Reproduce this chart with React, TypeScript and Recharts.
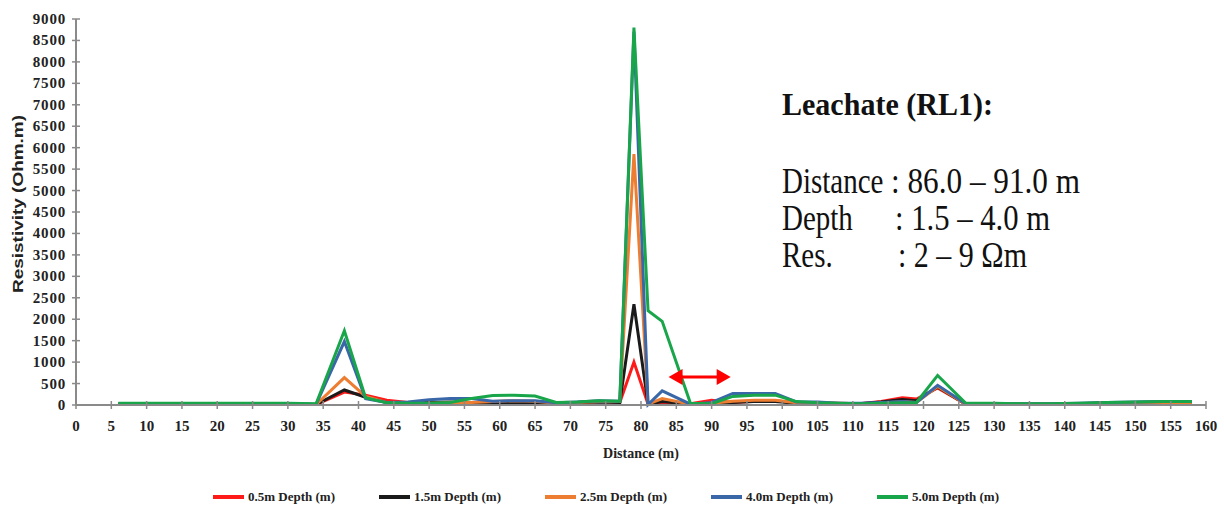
import {
  LineChart,
  Line,
  XAxis,
  YAxis,
  Legend,
  ReferenceLine,
} from 'recharts'

// distance along the profile (m)
const distances = [6, 10, 14, 18, 22, 26, 30, 34, 38, 41, 44, 47, 50, 53, 56, 59, 62, 65, 68, 71, 74, 77, 79, 81, 83, 87, 90, 93, 96, 99, 102, 105, 108, 111, 114, 117, 119, 122, 126, 130, 134, 138, 142, 146, 150, 154, 158]

// resistivity (Ohm.m) per depth
const depth05 = [20, 20, 20, 20, 20, 20, 20, 10, 300, 230, 110, 60, 50, 40, 50, 40, 40, 40, 40, 60, 80, 60, 1000, 20, 30, 30, 110, 60, 90, 100, 50, 50, 40, 30, 80, 170, 140, 400, 20, 20, 20, 20, 30, 40, 50, 60, 60]
const depth15 = [20, 20, 20, 20, 20, 20, 20, 10, 350, 180, 60, 50, 60, 70, 60, 50, 60, 50, 40, 50, 70, 60, 2350, 20, 80, 20, 30, 60, 80, 80, 40, 40, 30, 30, 70, 130, 100, 420, 20, 20, 20, 20, 30, 50, 60, 70, 70]
const depth25 = [20, 20, 20, 20, 20, 20, 20, 10, 640, 200, 60, 40, 40, 50, 60, 80, 100, 90, 40, 60, 80, 80, 5850, 20, 150, 20, 40, 90, 110, 110, 50, 40, 30, 30, 40, 80, 60, 430, 20, 20, 20, 20, 30, 40, 50, 60, 60]
const depth40 = [30, 30, 30, 30, 30, 30, 30, 20, 1480, 150, 60, 70, 120, 150, 150, 90, 100, 100, 50, 70, 100, 90, 8700, 10, 330, 20, 60, 270, 270, 270, 70, 70, 40, 40, 60, 80, 60, 460, 30, 30, 30, 30, 40, 60, 70, 80, 80]
const depth50 = [40, 40, 40, 40, 40, 40, 40, 30, 1730, 170, 50, 40, 40, 60, 150, 220, 230, 210, 60, 70, 100, 90, 8800, 2200, 1950, 40, 30, 200, 230, 230, 80, 50, 40, 30, 40, 50, 60, 690, 40, 40, 30, 30, 40, 60, 70, 80, 80]

const xTicks = [0, 5, 10, 15, 20, 25, 30, 35, 40, 45, 50, 55, 60, 65, 70, 75, 80, 85, 90, 95, 100, 105, 110, 115, 120, 125, 130, 135, 140, 145, 150, 155, 160]
const yTicks = [0, 500, 1000, 1500, 2000, 2500, 3000, 3500, 4000, 4500, 5000, 5500, 6000, 6500, 7000, 7500, 8000, 8500, 9000]

const series = [
  { key: 'd05', name: '0.5m Depth (m)', color: '#FF1A1A', values: depth05 },
  { key: 'd15', name: '1.5m Depth (m)', color: '#1A1A1A', values: depth15 },
  { key: 'd25', name: '2.5m Depth (m)', color: '#ED7D31', values: depth25 },
  { key: 'd40', name: '4.0m Depth (m)', color: '#3A67A8', values: depth40 },
  { key: 'd50', name: '5.0m Depth (m)', color: '#19A64A', values: depth50 },
]

// leachate zone arrow (m, Ohm.m)
const arrowFrom = { x: 83.9, y: 650 }
const arrowTo = { x: 92.7, y: 650 }

// annotation block
const noteTitle = 'Leachate (RL1):'
const noteRows = [
  { label: 'Distance', value: ': 86.0 – 91.0 m' },
  { label: 'Depth', value: ': 1.5 – 4.0 m' },
  { label: 'Res.', value: ': 2 – 9 Ωm' },
]

const data = distances.map((d, i) => {
  const row: Record<string, number> = { distance: d }
  series.forEach((s) => {
    row[s.key] = s.values[i]
  })
  return row
})

const serif = '"Liberation Serif", "Times New Roman", serif'
const axisGrey = '#8a8a8a'

function XTick(props: any) {
  const { x, y, payload } = props
  return (
    <g>
      <line x1={x} y1={y - 4} x2={x} y2={y + 4} stroke={axisGrey} strokeWidth={1.5} />
      <text x={x} y={y + 26} textAnchor="middle" fontFamily={serif} fontWeight="bold" fontSize={15} fill="#222">
        {payload.value}
      </text>
    </g>
  )
}

function YTick(props: any) {
  const { x, y, payload } = props
  return (
    <g>
      <line x1={x - 4} y1={y} x2={x + 4} y2={y} stroke={axisGrey} strokeWidth={1.5} />
      <text x={x - 10} y={y + 5} textAnchor="end" fontFamily={serif} fontWeight="bold" fontSize={15} letterSpacing={0.8} fill="#222">
        {payload.value}
      </text>
    </g>
  )
}

function Arrow(props: any) {
  const { x1, y1, x2, y2 } = props
  const head = 14
  const half = 8
  return (
    <g>
      <line x1={x1 + head - 2} y1={y1} x2={x2 - head + 2} y2={y2} stroke="#FF0000" strokeWidth={3} />
      <polygon points={`${x1},${y1} ${x1 + head},${y1 - half} ${x1 + head},${y1 + half}`} fill="#FF0000" />
      <polygon points={`${x2},${y2} ${x2 - head},${y2 - half} ${x2 - head},${y2 + half}`} fill="#FF0000" />
    </g>
  )
}

function LegendContent() {
  return (
    <div style={{ display: 'flex', paddingLeft: 213, paddingTop: 18 }}>
      {series.map((s) => (
        <div key={s.key} style={{ display: 'flex', alignItems: 'center', width: 166 }}>
          <div style={{ width: 31, height: 3.5, background: s.color, marginRight: 4 }} />
          <span style={{ fontFamily: serif, fontWeight: 'bold', fontSize: 13, color: '#222', lineHeight: '16px' }}>
            {s.name}
          </span>
        </div>
      ))}
    </div>
  )
}

// text is drawn a little narrower than tall, like the source figure
const rowBaselines = [193, 230, 267]
const valueX = [891, 895, 898]
const valueWidths = [189, 155, 129]

export default function App() {
  return (
    <div style={{ position: 'absolute', left: 0, top: 0, width: 1224, height: 511, background: '#fff' }}>
      <LineChart width={1224} height={511} data={data} margin={{ top: 19, right: 18, left: 0, bottom: 0 }}>
        <XAxis
          dataKey="distance"
          type="number"
          domain={[0, 160]}
          ticks={xTicks}
          interval={0}
          height={66}
          tickSize={0}
          tickMargin={0}
          tickLine={false}
          tick={<XTick />}
          axisLine={{ stroke: axisGrey, strokeWidth: 2 }}
          label={{
            value: 'Distance (m)',
            position: 'insideBottom',
            offset: 13,
            style: { fontFamily: serif, fontWeight: 'bold', fontSize: 14, fill: '#222' },
          }}
        />
        <YAxis
          type="number"
          domain={[0, 9000]}
          ticks={yTicks}
          interval={0}
          width={76}
          tickSize={0}
          tickMargin={0}
          tickLine={false}
          tick={<YTick />}
          axisLine={{ stroke: axisGrey, strokeWidth: 2 }}
        />
        <Legend verticalAlign="bottom" height={40} content={<LegendContent />} />
        {series.map((s) => (
          <Line
            key={s.key}
            type="linear"
            dataKey={s.key}
            name={s.name}
            stroke={s.color}
            strokeWidth={3}
            dot={false}
            activeDot={false}
            isAnimationActive={false}
          />
        ))}
        <ReferenceLine segment={[arrowFrom, arrowTo]} shape={<Arrow />} ifOverflow="visible" />
      </LineChart>
      <svg
        width={1224}
        height={511}
        style={{ position: 'absolute', left: 0, top: 0, pointerEvents: 'none' }}
      >
        {/* y-axis title, stretched along its length like the source */}
        <text
          transform="translate(23 204) rotate(-90)"
          textAnchor="middle"
          fontFamily='"Liberation Sans", Arial, sans-serif'
          fontWeight="bold"
          fontSize={14}
          fill="#222"
          textLength={178}
          lengthAdjust="spacingAndGlyphs"
        >
          Resistivity (Ohm.m)
        </text>
        <g fontFamily={serif} fill="#111">
          <text x={782} y={115} fontSize={31} fontWeight="bold" textLength={211} lengthAdjust="spacingAndGlyphs">
            {noteTitle}
          </text>
          {noteRows.map((r, i) => (
            <g key={r.label} transform={`translate(0 ${rowBaselines[i]}) scale(1 1.2)`}>
              <text x={782} y={0} fontSize={29}>
                {r.label}
              </text>
              <text x={valueX[i]} y={0} fontSize={29} textLength={valueWidths[i]} lengthAdjust="spacingAndGlyphs">
                {r.value}
              </text>
            </g>
          ))}
        </g>
      </svg>
    </div>
  )
}
